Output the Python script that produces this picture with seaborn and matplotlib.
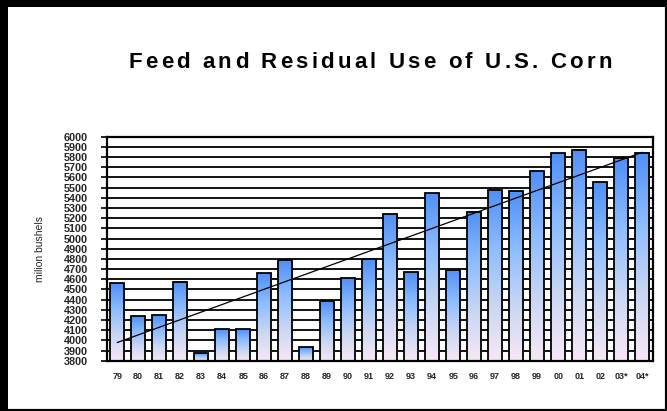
import numpy as np
import pandas as pd
import matplotlib
matplotlib.use("Agg")
import matplotlib.pyplot as plt
import seaborn as sns
from matplotlib.colors import LinearSegmentedColormap
from matplotlib.patches import Rectangle

years = ["79", "80", "81", "82", "83", "84", "85", "86", "87", "88", "89", "90", "91",
         "92", "93", "94", "95", "96", "97", "98", "99", "00", "01", "02", "03*", "04*"]
feed_use = [4560, 4236, 4249, 4576, 3873, 4114, 4114, 4661, 4786, 3937, 4389, 4612, 4799,
            5240, 4671, 5450, 4695, 5265, 5477, 5463, 5661, 5840, 5873, 5555, 5791, 5843]
y_ticks = list(range(3800, 6001, 100))

title = "Feed and Residual Use of U.S. Corn"
y_label = "milion bushels"


def spaced_title(fig, text, x_center, y, spacing_px, **kw):
    """Draws text one character at a time to get wider letter spacing."""
    renderer = fig.canvas.get_renderer()

    def width(s):
        t = fig.text(0, 0, s + "|", **kw)
        w = t.get_window_extent(renderer).width
        t.remove()
        return w

    bar_w = width("")
    offsets = [width(text[:i]) - bar_w + i * spacing_px for i in range(len(text))]
    total = width(text) - bar_w + (len(text) - 1) * spacing_px
    fw = fig.bbox.width
    x0 = x_center - total / 2
    for ch, off in zip(text, offsets):
        if ch != " ":
            fig.text((x0 + off) / fw, y, ch, ha="left", va="center", **kw)


def gradient_bars(ax, bars, cmap, y_bottom):
    """Fills each bar with a vertical gradient (blue top, pale pink bottom)."""
    grad = np.linspace(1, 0, 256).reshape(-1, 1)
    for bar in bars:
        x0, w, top = bar.get_x(), bar.get_width(), bar.get_y() + bar.get_height()
        ax.imshow(grad, cmap=cmap, aspect="auto", interpolation="bicubic",
                  extent=(x0, x0 + w, y_bottom, top), zorder=1.5)
        bar.set_facecolor("none")
        bar.set_zorder(2)


sns.set_style("white")
plt.rcParams["font.family"] = ["Liberation Sans", "DejaVu Sans"]

fig = plt.figure(figsize=(6.67, 4.11), dpi=100)
ax = fig.add_axes([0.160, 0.1224, 0.8186, 0.545])

df = pd.DataFrame({"year": years, "use": feed_use})
sns.barplot(data=df, x="year", y="use", order=years, width=0.69,
            color="#5b9bff", edgecolor="black", linewidth=1.3, ax=ax)

ylim = (3800, 6000)
ax.set_ylim(*ylim)
bar_cmap = LinearSegmentedColormap.from_list(
    "bar", ["#f7e8f5", "#c9d6f3", "#8cbcff", "#4f8ff6"])
gradient_bars(ax, ax.patches, bar_cmap, ylim[0])

# linear trend line
x_pos = np.arange(len(years))
fit = np.polyfit(x_pos, feed_use, 1)
ax.plot(x_pos, np.polyval(fit, x_pos), color="black", linewidth=0.9, zorder=3)

ax.set_xlim(-0.5, len(years) - 0.5)
ax.set_ylim(*ylim)

# gridlines
ax.set_yticks(y_ticks)
ax.set_yticklabels([str(v) for v in y_ticks], fontsize=7.8, fontweight="bold")
ax.yaxis.grid(True, color="black", linewidth=1.3)
ax.set_axisbelow(True)

ax.set_xticks(x_pos)
ax.set_xticklabels(years, fontsize=6.5, fontweight="bold")
ax.set_xticks(np.arange(-0.5, len(years)), minor=True)
ax.tick_params(axis="x", which="major", length=0, pad=8)
ax.tick_params(axis="x", which="minor", length=4, width=1.2, color="black")
ax.tick_params(axis="y", length=4.5, width=1.2, color="black", pad=9, left=True)

for side in ["left", "bottom", "right", "top"]:
    ax.spines[side].set_visible(True)
    ax.spines[side].set_color("black")
    ax.spines[side].set_linewidth(1.6)

ax.set_xlabel("")
ax.set_ylabel(y_label, fontsize=7.5)
ax.yaxis.set_label_coords(-0.113, 0.5)

spaced_title(fig, title, 370, 1 - 63 / 411, 3.2,
             fontsize=16, fontweight="bold", color="black")

# outer chart border, heavier on top and left
fig.patches.append(Rectangle((0, 0), 1, 1, transform=fig.transFigure,
                             fill=False, edgecolor="black", linewidth=3.0))
fig.patches.append(Rectangle((0, 0), 8 / 667, 1, transform=fig.transFigure,
                             facecolor="black", edgecolor="none"))
fig.patches.append(Rectangle((0, 1 - 7 / 411), 1, 7 / 411, transform=fig.transFigure,
                             facecolor="black", edgecolor="none"))

fig.savefig("out.png", dpi=100)
